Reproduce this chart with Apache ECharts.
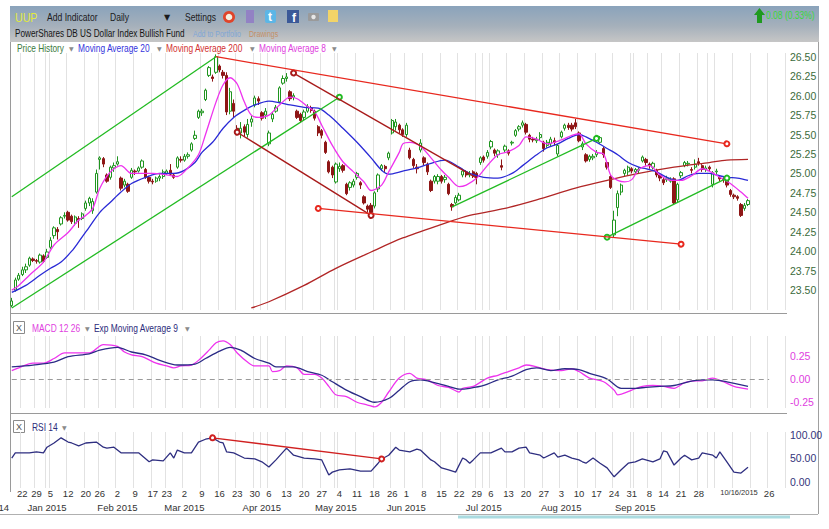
<!DOCTYPE html>
<html><head><meta charset="utf-8">
<script src="https://cdn.jsdelivr.net/npm/echarts@6/dist/echarts.min.js"></script>
<style>html,body{margin:0;padding:0;background:#fff}#c{width:829px;height:529px}</style>
</head><body><div id="c"></div>
<script>
// ---------- calendar ----------
const holidays = ['2014-12-25','2015-01-01','2015-01-19','2015-02-16','2015-04-03','2015-05-25','2015-07-03','2015-09-07'];
const monthNames = ['Jan','Feb','Mar','Apr','May','Jun','Jul','Aug','Sep','Oct','Nov','Dec'];
function buildDates(){
  const out=[]; let d=new Date(Date.UTC(2014,11,17)); const end=new Date(Date.UTC(2015,9,30));
  while(d<=end){ const w=d.getUTCDay(); const s=d.toISOString().slice(0,10);
    if(w!==0&&w!==6&&holidays.indexOf(s)<0) out.push(s); d=new Date(d.getTime()+86400000); }
  return out;
}
const dates = buildDates();

// ---------- price data (UUP daily) ----------
const opens = [
23.30,23.50,23.64,23.70,23.76,23.82,23.90,23.88,23.86,23.94,
23.92,24.05,24.20,24.28,24.35,24.45,24.50,24.45,24.36,24.42,
24.42,24.55,24.62,24.52,24.76,25.18,25.19,24.98,24.95,25.07,
25.12,24.94,24.85,24.86,24.95,25.03,25.03,25.08,25.05,24.95,
24.90,24.90,24.94,24.96,25.00,25.04,24.98,25.08,25.18,25.17,
25.22,25.30,25.45,25.72,25.78,25.95,26.26,26.24,26.30,26.38,
26.30,26.26,25.80,25.90,25.58,25.52,25.60,25.50,25.66,25.88,
25.96,25.78,25.75,25.38,25.70,25.80,25.92,26.16,26.22,26.05,
25.98,25.80,25.76,25.72,25.80,25.84,25.80,25.60,25.55,25.40,
25.15,25.08,24.89,25.06,25.10,24.86,24.82,24.85,24.95,24.88,
24.70,24.58,24.59,24.58,24.80,25.06,25.09,25.20,25.52,25.60,
25.62,25.56,25.50,25.30,25.18,25.08,25.30,25.20,25.12,24.90,
24.90,24.90,24.96,24.92,24.86,24.60,24.62,24.66,24.98,25.02,
24.98,25.02,25.00,25.14,25.21,25.22,25.34,25.30,25.24,25.10,
25.30,25.29,25.39,25.49,25.57,25.62,25.63,25.49,25.44,25.42,
25.46,25.40,25.36,25.38,25.42,25.25,25.47,25.58,25.62,25.62,
25.65,25.52,25.34,25.24,25.18,25.20,25.24,25.40,25.32,25.14,
24.96,24.21,24.56,24.76,25.00,25.02,25.06,25.02,25.04,25.16,
25.18,25.12,25.08,25.04,24.98,24.92,24.92,24.90,24.93,24.66,
24.97,25.10,25.12,25.05,25.08,25.15,25.10,25.05,25.08,24.86,
25.02,24.95,24.93,24.92,24.78,24.72,24.70,24.60,24.55,24.60];
const closes = [
23.36,23.63,23.69,23.76,23.80,23.91,23.88,23.87,23.95,23.87,
23.99,24.14,24.30,24.25,24.43,24.46,24.40,24.38,24.44,24.40,
24.48,24.62,24.68,24.64,25.00,25.20,25.12,24.90,25.08,25.10,
25.15,24.81,24.90,24.77,25.04,25.02,25.07,25.16,24.95,24.90,
24.89,24.94,24.96,25.02,25.03,24.99,24.95,25.20,25.17,25.22,
25.24,25.38,25.49,25.80,25.80,26.07,26.36,26.22,26.50,26.33,
26.26,25.79,26.05,25.80,25.53,25.58,25.53,25.63,25.70,25.97,
25.93,25.71,25.80,25.52,25.76,25.85,26.10,26.22,26.24,25.96,
26.00,25.72,25.68,25.79,25.86,25.81,25.71,25.52,25.49,25.27,
25.02,24.98,25.12,25.09,25.04,24.74,24.88,24.90,25.00,24.85,
24.62,24.54,24.50,24.75,24.98,25.10,25.06,25.26,25.68,25.66,
25.56,25.50,25.62,25.20,25.10,25.06,25.39,25.14,25.02,24.78,
24.96,24.96,24.90,24.95,24.74,24.57,24.69,24.72,25.03,24.98,
25.00,24.97,24.95,25.20,25.17,25.27,25.41,25.26,25.29,25.08,
25.35,25.26,25.40,25.55,25.60,25.65,25.53,25.44,25.43,25.44,
25.50,25.32,25.40,25.44,25.40,25.36,25.53,25.62,25.59,25.57,
25.60,25.42,25.38,25.16,25.22,25.22,25.27,25.46,25.24,25.08,
24.82,24.40,24.74,24.85,25.04,25.08,25.03,25.05,25.05,25.21,
25.14,25.10,25.13,24.98,24.94,24.88,24.94,24.92,24.62,24.86,
25.01,25.14,25.13,25.04,25.12,25.13,25.05,25.07,25.06,25.01,
25.03,24.93,24.92,24.85,24.73,24.70,24.68,24.46,24.59,24.65];
const lows = [
23.28,23.48,23.62,23.68,23.72,23.80,23.86,23.84,23.84,23.85,
23.90,24.03,24.16,24.15,24.33,24.42,24.38,24.35,24.33,24.30,
24.40,24.52,24.58,24.48,24.74,25.05,25.08,24.88,24.92,25.02,
25.10,24.78,24.82,24.75,24.93,24.98,25.01,25.06,24.93,24.87,
24.86,24.88,24.90,24.93,24.98,24.97,24.93,25.06,25.14,25.15,
25.19,25.28,25.43,25.70,25.74,25.93,26.24,26.18,26.28,26.30,
26.22,25.75,25.76,25.72,25.50,25.45,25.48,25.46,25.60,25.85,
25.88,25.68,25.70,25.35,25.66,25.78,25.90,26.14,26.18,25.93,
25.94,25.70,25.65,25.68,25.78,25.78,25.68,25.48,25.45,25.25,
25.00,24.94,24.87,25.02,25.01,24.72,24.78,24.82,24.92,24.80,
24.60,24.50,24.47,24.55,24.76,25.03,25.02,25.17,25.50,25.55,
25.52,25.47,25.47,25.18,25.07,25.00,25.27,25.10,24.98,24.76,
24.87,24.86,24.87,24.88,24.72,24.52,24.60,24.64,24.95,24.95,
24.95,24.94,24.86,25.11,25.14,25.19,25.31,25.22,25.20,25.04,
25.27,25.23,25.36,25.47,25.54,25.59,25.50,25.40,25.40,25.39,
25.42,25.28,25.33,25.35,25.36,25.22,25.45,25.55,25.56,25.54,
25.57,25.40,25.30,25.14,25.15,25.17,25.21,25.38,25.20,25.05,
24.80,24.18,24.45,24.72,24.96,24.98,25.00,24.99,25.00,25.14,
25.10,25.06,25.05,24.95,24.90,24.85,24.89,24.88,24.60,24.63,
24.94,25.08,25.09,25.00,25.05,25.10,25.02,25.02,25.03,24.82,
24.99,24.90,24.88,24.82,24.70,24.67,24.65,24.44,24.52,24.58];
const highs = [
23.40,23.66,23.72,23.80,23.84,23.93,23.92,23.90,23.97,23.96,
24.03,24.18,24.32,24.31,24.45,24.50,24.52,24.47,24.46,24.45,
24.50,24.65,24.70,24.68,25.05,25.22,25.21,25.00,25.10,25.14,
25.22,24.96,24.93,24.88,25.07,25.05,25.09,25.18,25.07,24.97,
24.93,24.96,24.99,25.05,25.05,25.12,25.00,25.22,25.22,25.25,
25.27,25.40,25.55,25.82,25.83,26.09,26.38,26.27,26.53,26.40,
26.33,26.30,26.10,25.95,25.62,25.66,25.63,25.70,25.74,26.00,
25.99,25.80,25.84,25.55,25.79,25.88,26.12,26.26,26.29,26.07,
26.03,25.82,25.78,25.82,25.89,25.87,25.82,25.62,25.57,25.42,
25.17,25.10,25.14,25.14,25.12,24.88,24.90,24.93,25.02,24.90,
24.72,24.60,24.62,24.77,25.00,25.12,25.11,25.28,25.70,25.70,
25.64,25.58,25.65,25.33,25.20,25.12,25.44,25.22,25.14,24.92,
24.98,24.99,24.98,24.98,24.88,24.62,24.72,24.75,25.06,25.04,
25.03,25.04,25.02,25.22,25.23,25.30,25.43,25.32,25.31,25.18,
25.37,25.31,25.42,25.57,25.62,25.68,25.65,25.51,25.47,25.47,
25.53,25.42,25.43,25.47,25.46,25.38,25.55,25.64,25.65,25.65,
25.70,25.54,25.41,25.26,25.24,25.25,25.30,25.48,25.34,25.16,
24.98,24.52,24.78,24.87,25.06,25.10,25.08,25.07,25.08,25.23,
25.20,25.14,25.15,25.06,25.00,24.94,24.97,24.95,24.95,24.88,
25.03,25.16,25.16,25.08,25.18,25.20,25.12,25.10,25.10,25.03,
25.06,24.97,24.95,24.94,24.80,24.74,24.72,24.62,24.62,24.67];

// ---------- indicator readings: [trading-day index, value] ----------
const ma20Pts = [[0,23.47],[4,23.56],[8,23.69],[11,23.78],[14,23.86],[17,24.0],[19,24.12],[22,24.31],[25,24.5],[28,24.63],[31,24.76],[34,24.87],[38,24.95],[42,25.0],[46,25.0],[49,25.04],[52,25.14],[54,25.27],[57,25.4],[60,25.58],[63,25.72],[66,25.81],[69,25.88],[73,25.93],[76,25.91],[79,25.88],[83,25.85],[87,25.84],[90,25.75],[94,25.58],[98,25.4],[102,25.2],[105,25.04],[107,24.99],[111,25.03],[115,25.07],[119,25.13],[123,25.17],[127,25.08],[130,25.0],[134,24.95],[138,24.94],[142,25.0],[145,25.1],[149,25.24],[152,25.33],[155,25.38],[158,25.45],[161,25.5],[163,25.47],[166,25.4],[169,25.32],[172,25.24],[175,25.14],[178,25.08],[180,25.06],[183,25.02],[186,24.95],[189,24.91],[192,24.97],[195,25.0],[198,25.0],[200,24.98],[203,24.95],[206,24.94],[209,24.91]];
const ma8Pts = [[0,23.5],[2,23.56],[5,23.69],[9,23.86],[12,24.08],[16,24.24],[19,24.4],[21,24.46],[23,24.55],[25,24.81],[28,25.02],[31,25.1],[34,25.0],[36,25.0],[40,25.0],[44,24.98],[47,24.96],[50,25.07],[53,25.24],[55,25.5],[58,25.92],[60,26.14],[62,26.23],[64,26.15],[66,25.92],[68,25.75],[70,25.72],[73,25.75],[76,25.88],[79,25.98],[81,25.96],[84,25.86],[86,25.79],[88,25.62],[91,25.36],[94,25.15],[97,25.02],[100,24.89],[102,24.78],[105,24.85],[107,25.02],[110,25.27],[111,25.38],[113,25.4],[116,25.35],[119,25.2],[122,25.04],[124,24.95],[127,24.83],[129,24.85],[132,24.94],[135,25.1],[138,25.24],[141,25.28],[144,25.36],[146,25.47],[149,25.44],[152,25.38],[156,25.43],[159,25.49],[161,25.51],[163,25.38],[166,25.27],[168,25.25],[170,24.98],[172,24.91],[174,24.89],[176,24.92],[178,25.05],[181,25.1],[184,24.98],[187,24.91],[190,24.91],[193,24.97],[196,25.06],[198,25.03],[201,24.95],[204,24.87],[207,24.76],[209,24.68]];
const ma200Pts = [[68,23.27],[73,23.35],[83,23.56],[92,23.78],[102,23.99],[111,24.17],[121,24.33],[130,24.46],[140,24.55],[149,24.66],[160,24.81],[169,24.91],[178,25.0],[188,25.08],[198,25.14],[203,25.17],[209,25.18]];
const macdPts = [[0,0.09],[2,0.12],[6,0.17],[9,0.17],[12,0.22],[15,0.28],[19,0.28],[22,0.28],[26,0.37],[30,0.35],[32,0.29],[34,0.26],[37,0.24],[41,0.17],[44,0.14],[46,0.12],[48,0.14],[51,0.15],[53,0.20],[56,0.31],[58,0.39],[60,0.41],[62,0.37],[64,0.28],[67,0.18],[69,0.14],[73,0.14],[74,0.08],[76,0.09],[78,0.14],[81,0.12],[83,0.05],[86,0.05],[88,0.01],[90,-0.08],[92,-0.17],[95,-0.19],[98,-0.25],[101,-0.28],[103,-0.30],[105,-0.25],[107,-0.14],[110,0.01],[113,0.06],[115,0.01],[118,-0.01],[121,-0.07],[124,-0.09],[127,-0.14],[128,-0.10],[131,-0.08],[135,0.01],[138,0.04],[141,0.08],[144,0.12],[146,0.15],[149,0.13],[152,0.10],[156,0.09],[159,0.11],[161,0.08],[164,0.01],[168,-0.03],[171,-0.12],[172,-0.17],[176,-0.12],[179,-0.08],[182,-0.07],[185,-0.08],[188,-0.10],[191,-0.04],[194,-0.02],[196,-0.02],[199,0.01],[202,-0.03],[205,-0.08],[209,-0.11]];
const signalPts = [[0,0.13],[6,0.15],[12,0.18],[16,0.24],[22,0.27],[25,0.31],[30,0.34],[34,0.29],[38,0.26],[42,0.20],[47,0.15],[52,0.16],[55,0.22],[59,0.30],[62,0.34],[65,0.31],[69,0.22],[73,0.17],[75,0.13],[80,0.13],[84,0.08],[88,0.04],[91,-0.03],[95,-0.12],[99,-0.19],[103,-0.25],[107,-0.21],[110,-0.12],[113,-0.03],[116,-0.01],[120,-0.04],[124,-0.08],[127,-0.11],[130,-0.10],[134,-0.07],[138,-0.01],[142,0.03],[146,0.10],[149,0.12],[153,0.09],[157,0.11],[161,0.10],[164,0.06],[169,0.0],[173,-0.10],[177,-0.10],[180,-0.09],[184,-0.08],[188,-0.07],[192,-0.03],[196,-0.01],[199,-0.01],[203,-0.03],[209,-0.08]];
const rsiPts = [[0,51],[1,62],[3,62],[5,62],[7,64],[9,62],[10,74],[12,83],[14,94],[16,85],[17,83],[19,77],[21,83],[24,85],[26,74],[27,72],[29,74],[31,62],[33,62],[36,62],[39,43],[40,47],[43,45],[45,62],[46,51],[47,68],[49,62],[51,62],[53,85],[55,91],[57,94],[59,85],[60,83],[61,64],[63,62],[66,51],[69,49],[71,43],[73,32],[75,47],[78,72],[80,57],[83,51],[86,49],[88,47],[90,15],[91,21],[93,26],[96,28],[99,23],[102,23],[104,40],[105,49],[107,57],[109,74],[110,68],[113,64],[115,70],[116,68],[119,47],[120,43],[122,30],[124,26],[126,21],[128,51],[129,47],[130,40],[131,47],[133,62],[136,62],[139,72],[140,64],[142,64],[144,72],[146,74],[147,62],[150,57],[151,51],[154,62],[155,53],[157,57],[159,51],[161,47],[162,43],[163,40],[165,51],[167,40],[169,30],[171,11],[173,26],[175,40],[177,43],[179,49],[182,43],[184,49],[185,66],[186,64],[188,36],[190,51],[191,57],[193,47],[195,51],[196,62],[199,57],[200,51],[201,64],[203,43],[205,21],[207,19],[209,31.13]];

// ---------- drawings (date, value, date, value) ----------
const trendGreen = [['2014-12-17',24.70,'2015-03-13',26.50],['2014-12-17',23.27,'2015-05-04',25.98],['2015-06-18',24.57,'2015-08-17',25.45],['2015-08-20',24.18,'2015-10-08',24.94]];
const trendDarkRed = [['2015-04-15',26.29,'2015-06-29',24.94],['2015-03-23',25.53,'2015-05-15',24.46]];
const trendRed = [['2015-03-13',26.50,'2015-10-08',25.38],['2015-04-24',24.55,'2015-09-21',24.09]];
const rsiTrend = [['2015-03-12',94,'2015-05-20',49]];
// which ends of each drawing carry a handle circle (style)
const greenEnds = [[0,0],[0,1],[0,1],[1,1]];
const darkRedEnds = [[1,0],[1,1]];
const redEnds = [[0,1],[1,1]];
const rsiEnds = [[1,1]];

// ---------- axis ticks & last values ----------
const priceTicks = [23.5,23.75,24,24.25,24.5,24.75,25,25.25,25.5,25.75,26,26.25,26.5];
const macdTicks = [-0.25,0,0.25];
const rsiTicks = [0,50,100];
const lastPrice = 24.65, lastMacd = -0.11, lastRsi = 31.13;
const lastDateLabel = '2015-10-16';
const hiddenDayLabels = ['2015-10-05','2015-10-12','2015-10-19'];

// ---------- helpers ----------
function expand(pts){ const a=new Array(dates.length).fill(null); pts.forEach(p=>{a[p[0]]=p[1];}); return a; }
const ohlc = opens.map((o,i)=>[o,closes[i],lows[i],highs[i]]);
const wd = s => new Date(s+'T00:00:00Z').getUTCDay();
const weekStart = dates.map((d,i)=> i>0 && wd(d) < wd(dates[i-1]));
const monthStart = dates.map((d,i)=> i>0 && d.slice(5,7)!==dates[i-1].slice(5,7));
const gridLine = dates.map((d,i)=> weekStart[i]||monthStart[i]);
const FONT = '"Liberation Sans",Arial,sans-serif';
function segs(list, ends, color){
  return list.map((s,k)=>[
    {coord:[s[0],s[1]], symbol: ends[k][0]?'emptyCircle':'none', symbolSize:5, lineStyle:{color:color,width:1.3,type:'solid'}},
    {coord:[s[2],s[3]], symbol: ends[k][1]?'emptyCircle':'none', symbolSize:5}]);
}
function valueBox(v, txt){
  return {yAxis:v, symbol:'none', lineStyle:{opacity:0}, label:{show:true, position:'end', distance:3, formatter:txt,
    backgroundColor:'#fff', borderColor:'#444', borderWidth:1, borderRadius:3, padding:[2,2,1,2], color:'#111', fontSize:10.5, fontFamily:FONT}};
}
function xBase(gi, extra){
  return Object.assign({type:'category', gridIndex:gi, data:dates, boundaryGap:true,
    axisLine:{show:false}, axisTick:{show:false}, axisLabel:{show:false},
    splitLine:{show:true, interval:(i)=>gridLine[i], lineStyle:{color:'#e2e2e2', width:1}}}, extra||{});
}
function yBase(gi, min, max, ticks, color, fmt){
  return {type:'value', gridIndex:gi, position:'right', min:min, max:max, splitLine:{show:false},
    axisLine:{show:false}, axisTick:{show:false},
    axisLabel:{customValues:ticks, formatter:fmt, color:color, fontSize:10.5, fontFamily:FONT, margin:5}};
}
const T = (text, x, y, fill, size, sx, extra) => ({type:'text', x:x, y:y, scaleX:sx||1, silent:true, z:10,
  style:Object.assign({text:text, fill:fill, font: size+'px '+FONT, textVerticalAlign:'middle'}, extra||{})});
const ARROW = (x,y) => ({type:'text', x:x, y:y, silent:true, z:10, style:{text:'\u25BC', fill:'#8a8a8a', font:'6px "DejaVu Sans",sans-serif', textVerticalAlign:'middle'}});
const L = (x1,y1,x2,y2,color,w) => ({type:'line', silent:true, shape:{x1,y1,x2,y2}, style:{stroke:color, lineWidth:w||1}});

const chart = echarts.init(document.getElementById('c'), null, {renderer:'svg', width:829, height:529});
const option = {
  animation:false,
  backgroundColor:'#ffffff',
  grid:[
    {left:10, right:44, top:53, height:257},
    {left:10, right:44, top:336, height:72},
    {left:10, right:44, top:432, height:56}
  ],
  xAxis:[
    xBase(0), xBase(1),
    xBase(2, {axisLabel:{show:true, margin:0, color:'#333', fontSize:9.5, fontFamily:FONT,
      interval:(i)=> weekStart[i] || dates[i]===lastDateLabel,
      formatter:(v)=> v===lastDateLabel ? '{s|10/16/2015}' : (hiddenDayLabels.indexOf(v)>=0 ? '' : String(+v.slice(8))),
      rich:{s:{fontSize:7.5, fontFamily:FONT, color:'#333', padding:[0,18,0,0]}}}}),
    {type:'category', gridIndex:2, data:dates, boundaryGap:true, position:'bottom', offset:14,
      axisLine:{show:false}, axisTick:{show:false}, splitLine:{show:false},
      axisLabel:{show:true, margin:0, color:'#333', fontSize:9.5, fontFamily:FONT,
        interval:(i)=> monthStart[i] && dates[i].slice(0,7)!=='2015-10',
        formatter:(v)=> monthNames[+v.slice(5,7)-1]+' '+v.slice(0,4)}}
  ],
  yAxis:[
    yBase(0, 23.244, 26.548, priceTicks, '#3b6b3b', v=>v.toFixed(2)),
    yBase(1, -0.312, 0.462, macdTicks, '#e040e0', v=>v.toFixed(2)),
    yBase(2, -12.77, 106.38, rsiTicks, '#33337a', v=>v.toFixed(2))
  ],
  series:[
    {name:'Price History', type:'candlestick', xAxisIndex:0, yAxisIndex:0, data:ohlc, barWidth:'80%',
      itemStyle:{color:'#ffffff', color0:'#8e1616', borderColor:'#1f951f', borderColor0:'#8e1616', borderWidth:1},
      markLine:{silent:true, symbolSize:5, label:{show:false},
        data:[].concat(segs(trendGreen,greenEnds,'#22bb22'), segs(trendDarkRed,darkRedEnds,'#a81a1a'), segs(trendRed,redEnds,'#e8281e'))}},
    {name:'Moving Average 200', type:'line', xAxisIndex:0, yAxisIndex:0, data:expand(ma200Pts), connectNulls:true,
      smooth:0.3, showSymbol:false, lineStyle:{color:'#b12626', width:1.3}},
    {name:'Moving Average 20', type:'line', xAxisIndex:0, yAxisIndex:0, data:expand(ma20Pts), connectNulls:true,
      smooth:0.3, showSymbol:false, lineStyle:{color:'#2a2ad6', width:1.3}},
    {name:'Moving Average 8', type:'line', xAxisIndex:0, yAxisIndex:0, data:expand(ma8Pts), connectNulls:true,
      smooth:0.3, showSymbol:false, lineStyle:{color:'#ee33ee', width:1.3},
      markLine:{silent:true, symbol:'none', data:[valueBox(lastPrice, lastPrice.toFixed(2))]}},
    {name:'MACD 12 26', type:'line', xAxisIndex:1, yAxisIndex:1, data:expand(macdPts), connectNulls:true,
      smooth:0.3, showSymbol:false, lineStyle:{color:'#ee33ee', width:1.3},
      markLine:{silent:true, symbol:'none', label:{show:false},
        data:[[{coord:[dates[0],0],lineStyle:{color:'#9a9a9a',type:[5,4],width:1.2}},{coord:['2015-10-26',0]}]]}},
    {name:'Exp Moving Average 9', type:'line', xAxisIndex:1, yAxisIndex:1, data:expand(signalPts), connectNulls:true,
      smooth:0.3, showSymbol:false, lineStyle:{color:'#2b2b86', width:1.3},
      markLine:{silent:true, symbol:'none', data:[valueBox(lastMacd, lastMacd.toFixed(2))]}},
    {name:'RSI 14', type:'line', xAxisIndex:2, yAxisIndex:2, data:expand(rsiPts), connectNulls:true,
      showSymbol:false, lineStyle:{color:'#2e2e80', width:1.3},
      markLine:{silent:true, symbolSize:5, label:{show:false},
        data:[].concat(segs(rsiTrend,rsiEnds,'#d02020'), [valueBox(lastRsi, lastRsi.toFixed(2))])}}
  ],
  graphic:[
    {type:'rect', silent:true, shape:{x:10,y:6,width:809,height:36},
      style:{fill:new echarts.graphic.LinearGradient(0,0,0,1,[{offset:0,color:'#8aa3bb'},{offset:0.55,color:'#a5b0bb'},{offset:1,color:'#c6c6c6'}])}},
    T('UUP', 15, 17, '#e2ea3c', 12.5, 0.85),
    T('Add Indicator', 47, 17, '#1b1b1b', 11, 0.78),
    T('Daily', 110, 17, '#1b1b1b', 11, 0.78),
    {type:'text', x:164, y:17, silent:true, z:10, style:{text:'\u25BC', fill:'#1b1b1b', font:'8px "DejaVu Sans",sans-serif', textVerticalAlign:'middle'}},
    T('Settings', 185, 17, '#1b1b1b', 11, 0.78),
    {type:'circle', silent:true, shape:{cx:229,cy:17,r:6}, style:{fill:'#e0442a'}},
    {type:'circle', silent:true, shape:{cx:229,cy:17,r:3.3}, style:{fill:'#f5f0e0'}},
    {type:'rect', silent:true, shape:{x:246,y:10,width:8,height:13}, style:{fill:'#9282c4'}},
    {type:'rect', silent:true, shape:{x:265,y:10,width:11,height:13,r:2}, style:{fill:'#5cb6e6'}},
    T('t', 268, 17, '#ffffff', 10, 1, {fontWeight:'bold'}),
    {type:'rect', silent:true, shape:{x:287,y:10,width:12,height:13}, style:{fill:'#3b5998'}},
    T('f', 292, 18, '#ffffff', 11, 1, {fontWeight:'bold'}),
    {type:'rect', silent:true, shape:{x:308,y:13,width:11,height:8,r:1}, style:{fill:'#9a9a9a'}},
    {type:'circle', silent:true, shape:{cx:313.5,cy:17,r:2.2}, style:{fill:'#e8e8e8'}},
    {type:'rect', silent:true, shape:{x:328,y:10,width:10,height:12}, style:{fill:'#f2d468'}},
    {type:'polygon', silent:true, shape:{points:[[757,23],[757,15],[754,15],[759.5,8],[765,15],[762,15],[762,23]]}, style:{fill:'#1f9a1f'}},
    T('0.08 (0.33%)', 766, 16, '#3ad83a', 10, 0.85),
    T('PowerShares DB US Dollar Index Bullish Fund', 15, 34, '#151515', 10, 0.82),
    T('Add to Portfolio', 193, 34, '#7fa6d6', 9, 0.78),
    T('Drawings', 249, 34, '#c48f66', 9, 0.78),
    T('Price History', 17, 48, '#3c7a3c', 10.5, 0.79), ARROW(69,48),
    T('Moving Average 20', 78, 48, '#3434dc', 10.5, 0.8), ARROW(157,48),
    T('Moving Average 200', 166, 48, '#d23030', 10.5, 0.8), ARROW(250,48),
    T('Moving Average 8', 259, 48, '#e040e0', 10.5, 0.8), ARROW(332,48),
    {type:'rect', silent:true, shape:{x:13.5,y:321.5,width:11,height:12}, style:{fill:'#fff', stroke:'#8a8a8a', lineWidth:1}},
    T('X', 19, 328, '#555', 9, 1, {textAlign:'center'}),
    T('MACD 12 26', 32, 328, '#e040e0', 10.5, 0.8), ARROW(85,328),
    T('Exp Moving Average 9', 94, 328, '#2b2b7a', 10.5, 0.8), ARROW(185,328),
    {type:'rect', silent:true, shape:{x:13.5,y:420.5,width:11,height:12}, style:{fill:'#fff', stroke:'#8a8a8a', lineWidth:1}},
    T('X', 19, 427, '#555', 9, 1, {textAlign:'center'}),
    T('RSI 14', 32, 427, '#2b2b7a', 10.5, 0.8), ARROW(62,427),
    T('Dec 2014', 9, 507, '#333', 9.5, 1, {textAlign:'right'}),
    L(10.5,42,10.5,492,'#9a9a9a'),
    L(818.5,42,818.5,514,'#a0a0a0'),
    L(10,313.5,787,313.5,'#9a9a9a'),
    L(10,413.5,787,413.5,'#9a9a9a'),
    L(0,514.5,818,514.5,'#b0b0b0'),
    L(458,517,790,517,'#aadbe0',3)
  ]
};
chart.setOption(option);
</script>
</body></html>
